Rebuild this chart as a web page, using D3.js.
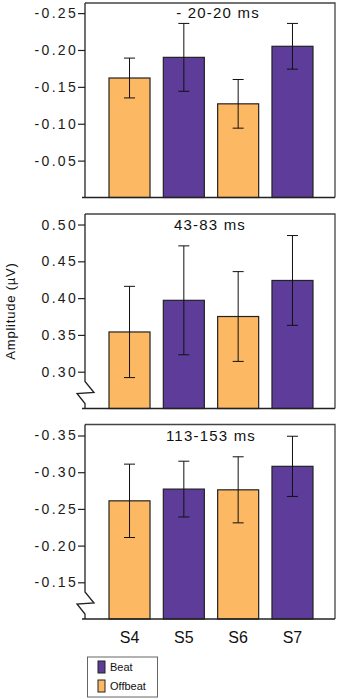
<!DOCTYPE html>
<html>
<head>
<meta charset="utf-8">
<script src="https://cdn.jsdelivr.net/npm/d3@7"></script>
<style>
  body { margin: 0; background: #fff; }
  svg { display: block; font-family: "Liberation Sans", Arial, sans-serif; }
</style>
</head>
<body>
<div id="chart-area"></div>
<script>
// Data
var sessions = ["S4", "S5", "S6", "S7"];
var conditions = ["Offbeat", "Beat", "Offbeat", "Beat"];

var titles = ["- 20-20 ms", "43-83 ms", "113-153 ms"];

var means1 = [-0.162, -0.190, -0.127, -0.205];
var errs1 = [0.027, 0.046, 0.033, 0.031];
var means2 = [0.354, 0.397, 0.375, 0.424];
var errs2 = [0.062, 0.074, 0.061, 0.061];
var means3 = [-0.261, -0.277, -0.276, -0.308];
var errs3 = [0.050, 0.038, 0.045, 0.041];

var ticks1 = [-0.05, -0.10, -0.15, -0.20, -0.25];
var ticks2 = [0.30, 0.35, 0.40, 0.45, 0.50];
var ticks3 = [-0.15, -0.20, -0.25, -0.30, -0.35];

// axis domains (bottom, top)
var domain1 = [0, -0.2637];
var domain2 = [0.25, 0.5143];
var domain3 = [-0.10, -0.365];

var legendItems = ["Beat", "Offbeat"];

var colors = { Beat: "#5e3c99", Offbeat: "#fdb863" };

// Setup
var W = 340, H = 699;
var left = 85, right = 335;
var font = "'Liberation Sans', Arial, sans-serif";

var svg = d3.select("#chart-area")
  .append("svg")
    .attr("width", W)
    .attr("height", H);

var x = d3.scaleBand()
  .domain(sessions)
  .range([95.7, 326.3])
  .padding(0.245);

var panels = [
  { title: titles[0], means: means1, errs: errs1, ticks: ticks1, domain: domain1, top: 3, brk: false, tdx: 8, tdy: 15 },
  { title: titles[1], means: means2, errs: errs2, ticks: ticks2, domain: domain2, top: 214, brk: true, tdx: 0, tdy: 16 },
  { title: titles[2], means: means3, errs: errs3, ticks: ticks3, domain: domain3, top: 424.5, brk: true, tdx: 1, tdy: 16 }
];
var panelH = 194.5;

panels.forEach(function (p) {
  var top = p.top, bottom = p.top + panelH;
  var y = d3.scaleLinear().domain(p.domain).range([bottom, top]);

  var g = svg.append("g");

  // frame (top & right)
  g.append("path")
    .attr("d", "M" + left + "," + top + "H" + right + "V" + bottom)
    .attr("fill", "none")
    .attr("stroke", "#444")
    .attr("stroke-width", 1.3);

  var data = sessions.map(function (s, i) {
    return { s: s, cond: conditions[i], v: p.means[i], e: p.errs[i] };
  });

  // bars
  g.selectAll("rect.bar")
    .data(data)
    .enter()
    .append("rect")
      .attr("class", "bar")
      .attr("x", function (d) { return x(d.s); })
      .attr("width", x.bandwidth())
      .attr("y", function (d) { return y(d.v); })
      .attr("height", function (d) { return bottom - y(d.v); })
      .attr("fill", function (d) { return colors[d.cond]; })
      .attr("stroke", "#222")
      .attr("stroke-width", 1.2);

  // error bars
  var cap = 5.5;
  var eb = g.selectAll("g.err")
    .data(data)
    .enter()
    .append("g")
      .attr("class", "err")
      .attr("stroke", "#111")
      .attr("stroke-width", 1);
  eb.append("line")
    .attr("x1", function (d) { return x(d.s) + x.bandwidth() / 2; })
    .attr("x2", function (d) { return x(d.s) + x.bandwidth() / 2; })
    .attr("y1", function (d) { return y(d.v - d.e); })
    .attr("y2", function (d) { return y(d.v + d.e); });
  [-1, 1].forEach(function (k) {
    eb.append("line")
      .attr("x1", function (d) { return x(d.s) + x.bandwidth() / 2 - cap; })
      .attr("x2", function (d) { return x(d.s) + x.bandwidth() / 2 + cap; })
      .attr("y1", function (d) { return y(d.v + k * d.e); })
      .attr("y2", function (d) { return y(d.v + k * d.e); });
  });

  // y axis ticks
  var yAxis = d3.axisLeft(y)
    .tickValues(p.ticks)
    .tickSize(7)
    .tickSizeOuter(0)
    .tickPadding(0)
    .tickFormat(function (d) { return d.toFixed(2); });

  var ag = g.append("g")
    .attr("transform", "translate(" + left + ",0)")
    .call(yAxis)
    .attr("font-family", font)
    .attr("font-size", 14);
  ag.select(".domain").remove();
  ag.selectAll(".tick line").attr("stroke", "#222").attr("stroke-width", 1.2);
  ag.selectAll(".tick text")
    .attr("letter-spacing", "2.3px")
    .attr("fill", "#1a1a1a")
    .attr("x", -7);

  // left axis line (with break)
  var d;
  if (p.brk) {
    d = "M" + left + "," + top + "V" + (bottom - 27) +
        "L" + (left + 9) + "," + (bottom - 16) +
        "L" + (left - 8) + "," + (bottom - 15) +
        "L" + left + "," + (bottom - 5) + "V" + bottom;
  } else {
    d = "M" + left + "," + top + "V" + bottom;
  }
  g.append("path")
    .attr("d", d)
    .attr("fill", "none")
    .attr("stroke", "#222")
    .attr("stroke-width", 1.3);

  // bottom axis line
  g.append("line")
    .attr("x1", left - 3)
    .attr("x2", right)
    .attr("y1", bottom)
    .attr("y2", bottom)
    .attr("stroke", "#222")
    .attr("stroke-width", 1.3);

  // title
  g.append("text")
    .attr("x", (left + right) / 2 + p.tdx)
    .attr("y", top + p.tdy)
    .attr("text-anchor", "middle")
    .attr("font-size", "15px")
    .attr("letter-spacing", "1.2px")
    .attr("fill", "#111")
    .text(p.title);
});

// x labels
svg.selectAll("text.xlab")
  .data(sessions)
  .enter()
  .append("text")
    .attr("class", "xlab")
    .attr("x", function (d) { return x(d) + x.bandwidth() / 2; })
    .attr("y", 643)
    .attr("text-anchor", "middle")
    .attr("font-size", "16px")
    .attr("fill", "#111")
    .text(function (d) { return d; });

// Y label
svg.append("text")
  .attr("transform", "translate(15,311) rotate(-90)")
  .attr("text-anchor", "middle")
  .attr("font-size", "13px")
  .attr("letter-spacing", "0.8px")
  .attr("fill", "#111")
  .text("Amplitude (\u00b5V)");

// Legend
var lg = svg.append("g");
lg.append("rect")
  .attr("x", 87.5)
  .attr("y", 657)
  .attr("width", 70)
  .attr("height", 40)
  .attr("fill", "#fff")
  .attr("stroke", "#666")
  .attr("stroke-width", 1);

var li = lg.selectAll("g.item")
  .data(legendItems)
  .enter()
  .append("g")
    .attr("class", "item")
    .attr("transform", function (d, i) { return "translate(98," + (661 + i * 19) + ")"; });
li.append("rect")
  .attr("width", 7)
  .attr("height", 12)
  .attr("fill", function (d) { return colors[d]; })
  .attr("stroke", "#222")
  .attr("stroke-width", 1);
li.append("text")
  .attr("x", 12)
  .attr("y", 10)
  .attr("font-size", "11px")
  .attr("fill", "#111")
  .text(function (d) { return d; });
</script>
</body>
</html>
